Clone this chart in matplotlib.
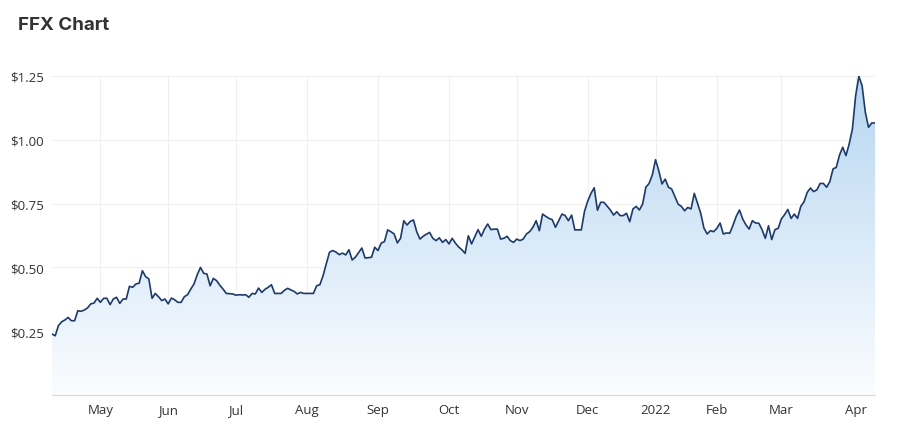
import numpy as np
import pandas as pd
import matplotlib
matplotlib.use('Agg')
import matplotlib.pyplot as plt
from matplotlib.colors import LinearSegmentedColormap

# ASX trading days shown on the chart (ordinal axis, no gaps)
holidays = ['2021-04-26', '2021-06-14', '2021-12-27', '2021-12-28',
            '2022-01-03', '2022-01-26']
dates = pd.bdate_range('2021-04-09', '2022-04-11')
dates = dates[~dates.isin(pd.to_datetime(holidays))]

# closing price, one per trading day
prices = [
    0.239, 0.232, 0.272, 0.287, 0.294, 0.304, 0.291, 0.291, 0.330, 0.328,
    0.333, 0.341, 0.357, 0.360, 0.379, 0.363, 0.379, 0.379, 0.354, 0.376,
    0.383, 0.359, 0.376, 0.376, 0.426, 0.422, 0.435, 0.438, 0.487, 0.464,
    0.455, 0.379, 0.398, 0.385, 0.370, 0.376, 0.357, 0.380, 0.373, 0.363,
    0.363, 0.385, 0.393, 0.415, 0.435, 0.471, 0.500, 0.477, 0.474, 0.428,
    0.457, 0.448, 0.430, 0.415, 0.398, 0.397, 0.396, 0.391, 0.393, 0.392,
    0.393, 0.383, 0.398, 0.396, 0.419, 0.402, 0.414, 0.422, 0.432, 0.398,
    0.398, 0.398, 0.410, 0.418, 0.412, 0.406, 0.396, 0.402, 0.398, 0.398,
    0.398, 0.398, 0.428, 0.432, 0.468, 0.515, 0.560, 0.566, 0.560, 0.550,
    0.556, 0.549, 0.569, 0.529, 0.540, 0.558, 0.576, 0.537, 0.538, 0.540,
    0.579, 0.566, 0.595, 0.601, 0.647, 0.640, 0.631, 0.596, 0.614, 0.683,
    0.666, 0.680, 0.686, 0.640, 0.611, 0.622, 0.630, 0.637, 0.614, 0.605,
    0.616, 0.598, 0.609, 0.592, 0.614, 0.595, 0.580, 0.569, 0.555, 0.624,
    0.592, 0.620, 0.648, 0.622, 0.650, 0.670, 0.648, 0.650, 0.650, 0.611,
    0.614, 0.622, 0.605, 0.598, 0.611, 0.605, 0.611, 0.631, 0.640, 0.657,
    0.683, 0.644, 0.709, 0.700, 0.692, 0.687, 0.657, 0.683, 0.709, 0.703,
    0.683, 0.705, 0.647, 0.647, 0.647, 0.720, 0.760, 0.790, 0.812, 0.724,
    0.755, 0.755, 0.740, 0.725, 0.705, 0.718, 0.703, 0.703, 0.712, 0.679,
    0.729, 0.739, 0.725, 0.748, 0.814, 0.829, 0.862, 0.922, 0.879, 0.827,
    0.846, 0.814, 0.807, 0.777, 0.748, 0.739, 0.722, 0.735, 0.729, 0.790,
    0.752, 0.712, 0.654, 0.631, 0.644, 0.640, 0.653, 0.674, 0.631, 0.635,
    0.634, 0.665, 0.700, 0.725, 0.690, 0.667, 0.650, 0.683, 0.674, 0.673,
    0.648, 0.614, 0.663, 0.609, 0.648, 0.653, 0.690, 0.707, 0.727, 0.692,
    0.709, 0.692, 0.739, 0.757, 0.794, 0.811, 0.797, 0.804, 0.829, 0.829,
    0.814, 0.836, 0.886, 0.892, 0.940, 0.971, 0.938, 0.984, 1.042, 1.173,
    1.249, 1.212, 1.108, 1.049, 1.066, 1.066,
]

y_ticks = [0.25, 0.50, 0.75, 1.00, 1.25]
y_labels = ['$0.25', '$0.50', '$0.75', '$1.00', '$1.25']

x = np.arange(len(dates))
n = min(len(x), len(prices))
x = x[:n]
prices = np.array(prices[:n])

# first trading day of each month for the x ticks
month_key = dates[:n].to_period('M')
first_idx = [i for i in range(1, n) if month_key[i] != month_key[i - 1]]
month_labels = []
for i in first_idx:
    d = dates[i]
    month_labels.append(str(d.year) if d.month == 1 else d.strftime('%b'))

fig = plt.figure(figsize=(9.06, 4.31), dpi=100)
ax = fig.add_axes([52 / 906, 1 - 396 / 431, (875 - 52) / 906, (396 - 77) / 431])

ymax = 1.25
ax.set_xlim(x[0], x[-1])
ax.set_ylim(0, ymax)

# gradient area under the line
poly = ax.fill_between(x, prices, 0, color='none', lw=0)
cmap = LinearSegmentedColormap.from_list('area', ['#fbfdff', '#b6d6f1'])
grad = ax.imshow(np.linspace(0, 1, 256).reshape(-1, 1), cmap=cmap,
                 extent=[x[0], x[-1], 0, ymax], origin='lower',
                 aspect='auto', zorder=1)
grad.set_clip_path(poly.get_paths()[0], transform=ax.transData)

ax.plot(x, prices, color='#1e3a68', lw=1.2, zorder=3)

ax.set_yticks(y_ticks)
ax.set_yticklabels(y_labels)
ax.set_xticks(first_idx)
ax.set_xticklabels(month_labels)

ax.grid(True, color='#efefef', lw=0.8, zorder=0)
ax.set_axisbelow(True)
for side in ['left', 'right', 'top']:
    ax.spines[side].set_visible(False)
ax.spines['bottom'].set_color('#d8d8d8')
ax.tick_params(axis='both', length=0, labelsize=9.5, labelcolor='#333333')
ax.tick_params(axis='y', pad=6)
ax.tick_params(axis='x', pad=6)
for lab in ax.get_xticklabels() + ax.get_yticklabels():
    lab.set_fontfamily('Open Sans')

fig.text(18 / 906, 1 - 26 / 431, 'FFX Chart', fontsize=13.5, fontweight='bold',
         color='#333333', va='center', ha='left', family='Inter')

fig.savefig('out.png', dpi=100)
